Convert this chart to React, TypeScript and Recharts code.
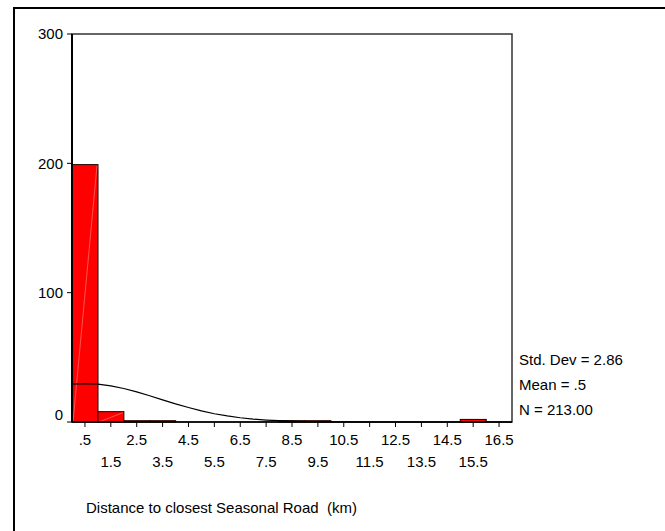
import React from "react"
import { Bar, ComposedChart, Line, ReferenceArea, XAxis, YAxis } from "recharts"

// histogram bins (width 1 km)
const binCenters = [0.5, 1.5, 2.5, 3.5, 4.5, 5.5, 6.5, 7.5, 8.5, 9.5, 10.5, 11.5, 12.5, 13.5, 14.5, 15.5, 16.5]
const binCounts = [199, 8, 1, 1, 0, 0, 0, 0, 1, 1, 0, 0, 0, 0, 0, 2, 0]

// normal curve
const curveX = [0, 0.5, 1, 1.5, 2, 2.5, 3, 3.5, 4, 4.5, 5, 5.5, 6, 6.5, 7, 7.5, 8, 8.5, 9, 9.5, 10, 10.5, 11, 12, 13, 14, 15, 16, 17]
const curveY = [29.3, 29.7, 29.3, 27.9, 25.9, 23.3, 20.3, 17.1, 14.0, 11.2, 8.6, 6.4, 4.7, 3.3, 2.2, 1.5, 1.0, 0.6, 0.4, 0.2, 0.1, 0.06, 0.03, 0, 0, 0, 0, 0, 0]

const xTicks = binCenters
const xTickLabels = [".5", "1.5", "2.5", "3.5", "4.5", "5.5", "6.5", "7.5", "8.5", "9.5", "10.5", "11.5", "12.5", "13.5", "14.5", "15.5", "16.5"]
const yTicks = [0, 100, 200, 300]

const statLines = ["Std. Dev = 2.86", "Mean = .5", "N = 213.00"]
const axisTitle = "Distance to closest Seasonal Road  (km)"

const bins = binCenters.map((x, i) => ({ x, count: binCounts[i] }))
const curve = curveX.map((x, i) => ({ x, y: curveY[i] }))

const FONT = "Arial, 'Liberation Sans', sans-serif"

const XTick = (props: any) => {
  const { x, payload, index } = props
  const i = xTicks.indexOf(payload.value)
  const label = i >= 0 ? xTickLabels[i] : String(payload.value)
  const lower = (i >= 0 ? i : index) % 2 === 1
  return (
    <text x={x} y={lower ? 467 : 444.5} textAnchor="middle" fontSize={15} fontFamily={FONT} fill="#000">
      {label}
    </text>
  )
}

const YTick = (props: any) => {
  const { x, y, payload } = props
  const shift = payload.value === 0 ? -7 : 0
  return (
    <text x={x} y={y + shift} dy="0.36em" textAnchor="end" fontSize={15} fontFamily={FONT} fill="#000">
      {payload.value}
    </text>
  )
}

const HistBar = (props: any) => {
  const { x, y, width, height } = props
  if (!height || height <= 0) return null
  return (
    <g>
      <rect x={x} y={y} width={width} height={height} fill="#ff0000" stroke="#1a0000" strokeWidth={1} />
      {height > 4 && (
        <line x1={x + 1} y1={y + height} x2={x + width - 1} y2={y + 1} stroke="#ff8a8a" strokeWidth={0.6} />
      )}
    </g>
  )
}

export default function App() {
  return (
    <div style={{ position: "fixed", left: 0, top: 0, width: 665, height: 531, background: "#fff", overflow: "hidden", fontFamily: FONT }}>
      <div style={{ position: "absolute", left: 13, top: 7, width: 700, height: 600, border: "2px solid #000" }} />
      <div style={{ position: "absolute", left: 0, top: 0 }}>
        <ComposedChart
          width={665}
          height={531}
          data={bins}
          margin={{ top: 34, right: 153, bottom: 59, left: 0 }}
          barCategoryGap={0}
          barGap={0}
        >
          <XAxis
            dataKey="x"
            type="number"
            domain={[0, 17]}
            ticks={xTicks}
            interval={0}
            tick={<XTick />}
            tickSize={5}
            height={50}
            stroke="#000"
            tickLine={{ stroke: "#000" }}
            axisLine={{ stroke: "#000", strokeWidth: 1.5 }}
          />
          <XAxis xAxisId="curve" dataKey="x" type="number" domain={[0, 17]} hide />
          <YAxis
            type="number"
            domain={[0, 300]}
            ticks={yTicks}
            interval={0}
            tick={<YTick />}
            tickSize={5}
            tickMargin={4}
            width={72}
            stroke="#000"
            axisLine={{ stroke: "#000", strokeWidth: 2 }}
          />
          <ReferenceArea x1={0} x2={17} y1={0} y2={300} fill="none" stroke="#333" strokeWidth={1.5} />
          <Bar dataKey="count" shape={<HistBar />} isAnimationActive={false} />
          <Line
            xAxisId="curve"
            data={curve}
            dataKey="y"
            type="linear"
            stroke="#000"
            strokeWidth={1.2}
            dot={false}
            activeDot={false}
            isAnimationActive={false}
          />
        </ComposedChart>
      </div>
      {statLines.map((s, i) => (
        <div
          key={s}
          style={{ position: "absolute", left: 519, top: 351 + i * 25, fontSize: 15, lineHeight: "18px", color: "#000", whiteSpace: "pre" }}
        >
          {s}
        </div>
      ))}
      <div style={{ position: "absolute", left: 86, top: 499, fontSize: 15, lineHeight: "18px", color: "#000", whiteSpace: "pre" }}>
        {axisTitle}
      </div>
    </div>
  )
}
